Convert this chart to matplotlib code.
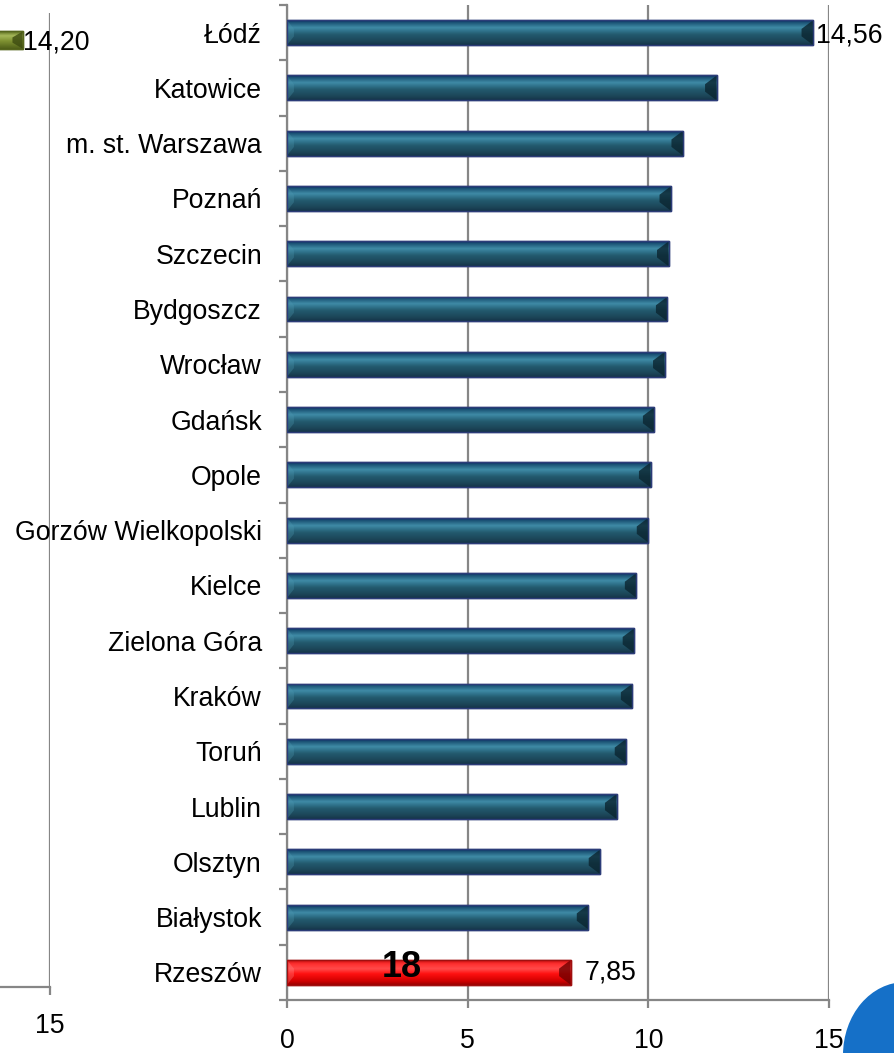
import numpy as np
import matplotlib
matplotlib.use("Agg")
import matplotlib.pyplot as plt
from matplotlib.colors import LinearSegmentedColormap
from matplotlib.patches import Polygon, Circle

plt.rcParams['font.family'] = ['Liberation Sans', 'DejaVu Sans']

# Data
cities = ["Łódź", "Katowice", "m. st. Warszawa", "Poznań", "Szczecin", "Bydgoszcz",
          "Wrocław", "Gdańsk", "Opole", "Gorzów Wielkopolski", "Kielce", "Zielona Góra",
          "Kraków", "Toruń", "Lublin", "Olsztyn", "Białystok", "Rzeszów"]
values = [14.56, 11.89, 10.96, 10.63, 10.56, 10.53, 10.45, 10.17, 10.06, 10.00,
          9.67, 9.61, 9.56, 9.39, 9.12, 8.67, 8.34, 7.85]
highlight = "Rzeszów"
rank_label = "18"
labelled = {"Łódź": "14,56", "Rzeszów": "7,85"}
x_ticks = [0, 5, 10, 15]

# partial neighbouring chart on the left (only the top bar is visible)
left_values = [14.20]
left_labels = ["14,20"]

GRID = "#868686"

teal = LinearSegmentedColormap.from_list("teal", [
    (0.00, "#0b2c66"), (0.10, "#1d5677"), (0.30, "#3f8ba6"), (0.45, "#2e7088"),
    (0.58, "#235a6e"), (0.85, "#1c4658"), (1.00, "#15344a")])
red = LinearSegmentedColormap.from_list("red", [
    (0.00, "#c81010"), (0.15, "#ff3030"), (0.35, "#ff4a4a"), (0.55, "#ff1010"),
    (0.85, "#d00000"), (1.00, "#9a0000")])
olive = LinearSegmentedColormap.from_list("olive", [
    (0.00, "#55661a"), (0.25, "#a6b85a"), (0.55, "#7f9232"), (1.00, "#4f5f18")])


def fancy_bar(ax, y, v, h, cmap, edge, cap_dark, cap_light, cap_w):
    bar = ax.barh(y, v, height=h, color=cmap(0.5), edgecolor=edge, linewidth=1.0, zorder=3)[0]
    grad = np.linspace(0, 1, 64).reshape(-1, 1)
    im = ax.imshow(grad, cmap=cmap, extent=[0, v, y + h / 2, y - h / 2],
                   aspect='auto', origin='upper', zorder=3.1, interpolation='bilinear')
    im.set_clip_path(bar)
    top, bot = y - h / 2, y + h / 2
    # bevelled ends
    ax.add_patch(Polygon([(v, top), (v - cap_w, y - h * 0.15), (v - cap_w, y + h * 0.15), (v, bot)],
                         closed=True, facecolor=cap_dark, edgecolor='none', alpha=0.8, zorder=3.2))
    ax.add_patch(Polygon([(0, top), (cap_w * 0.6, y - h * 0.15), (cap_w * 0.6, y + h * 0.15), (0, bot)],
                         closed=True, facecolor=cap_light, edgecolor='none', alpha=0.3, zorder=3.2))
    # outline on top
    ax.barh(y, v, height=h, color='none', edgecolor=edge, linewidth=1.0, zorder=3.3)


def style_axis(ax):
    ax.set_xlim(0, 15)
    ax.set_ylim(len(cities) - 0.5, -0.5)
    ax.set_xticks(x_ticks)
    ax.grid(axis='x', color=GRID, linewidth=1.6)
    ax.set_axisbelow(True)
    for s in ['top', 'right']:
        ax.spines[s].set_visible(False)
    for s in ['left', 'bottom']:
        ax.spines[s].set_color(GRID)
        ax.spines[s].set_linewidth(1.6)
    ax.tick_params(axis='x', direction='out', length=6, width=1.6, color=GRID,
                   labelsize=19.2, pad=14)
    ax.patch.set_alpha(0)


fig = plt.figure(figsize=(8.95, 10.53), dpi=100)

# left, cut-off chart
axl = fig.add_axes([-462 / 895, 66 / 1053, 512 / 895, 974 / 1053])
style_axis(axl)
axl.set_xticks([15])
axl.tick_params(axis='x', pad=13)
axl.spines['left'].set_visible(False)
axl.set_yticks([])
for i, v in enumerate(left_values):
    fancy_bar(axl, i, v, 0.32, olive, "#56661e", "#3c4a10", "#c8d890", 0.3)
    axl.text(v + 0.01, i + 0.05, left_labels[i], fontsize=19.2, va='center', ha='left', zorder=5)

# main chart
ax = fig.add_axes([287 / 895, 53 / 1053, 542 / 895, 995 / 1053])
style_axis(ax)
ypos = np.arange(len(cities))
for i, (c, v) in enumerate(zip(cities, values)):
    if c == highlight:
        fancy_bar(ax, i, v, 0.45, red, "#a01010", "#700000", "#ff9090", 0.32)
    else:
        fancy_bar(ax, i, v, 0.45, teal, "#2c3c78", "#0b2530", "#4f9ab3", 0.32)

ax.set_yticks(ypos)
ax.set_yticklabels(cities)
ax.set_yticks(np.arange(-0.5, len(cities), 1), minor=True)
ax.tick_params(axis='y', which='major', length=0, labelsize=19.2, pad=18)
ax.tick_params(axis='y', which='minor', direction='out', length=6, width=1.6, color=GRID)

# value labels
for i, (c, v) in enumerate(zip(cities, values)):
    if c in labelled:
        dx = 2 if i == 0 else 10
        ax.annotate(labelled[c], (v, i), xytext=(dx, -2 if i == 0 else 0),
                    textcoords='offset points', fontsize=19.2, va='center', ha='left',
                    zorder=5, annotation_clip=False)
    if c == highlight:
        ax.text(v * 0.405, i - 0.08, rank_label, fontsize=26, fontweight='bold',
                va='center', ha='center', zorder=5)

# blue circle in the corner
fig.patches.append(Circle((905 / 895, 1 - 1055 / 1053), 62 / 895, transform=fig.transFigure,
                          facecolor="#1570c8", edgecolor='none', zorder=10))

fig.savefig("out.png", dpi=100)
